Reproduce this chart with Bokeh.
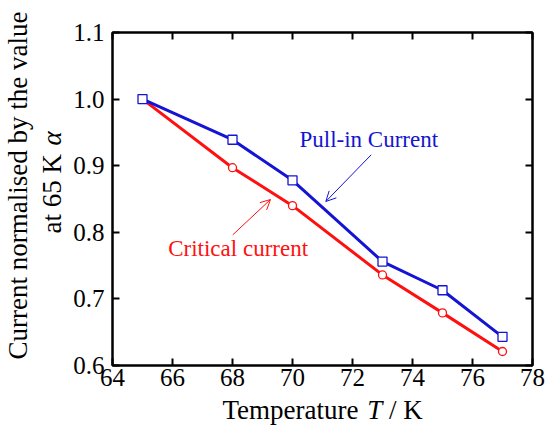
from bokeh.plotting import figure
from bokeh.models import (Range1d, LinearAxis, FixedTicker, Label, Arrow, OpenHead, Title)
from bokeh.embed import file_html
from bokeh.resources import INLINE

# ---- data ----
temperature = [65, 68, 70, 73, 75, 77]
pull_in_current = [1.000, 0.939, 0.878, 0.756, 0.713, 0.643]
critical_current = [1.000, 0.897, 0.840, 0.736, 0.679, 0.621]
x_ticks = [64, 66, 68, 70, 72, 74, 76, 78]
y_ticks = [0.6, 0.7, 0.8, 0.9, 1.0, 1.1]
y_tick_labels = ["0.6", "0.7", "0.8", "0.9", "1.0", "1.1"]

FONT = "Liberation Serif"
BLUE = "#1414d2"
RED = "#ff1010"

W, H = 547, 428
FL, FR, FT, FB = 112, 15, 32, 63
X0, X1, Y0, Y1 = 64, 78, 0.6, 1.1
SX = (W - FL - FR) / (X1 - X0)
SY = (H - FT - FB) / (Y1 - Y0)


def dx(px):
    return X0 + (px - FL) / SX


def dy(py):
    return Y1 - (py - FT) / SY


p = figure(width=W, height=H, output_backend="svg", toolbar_location=None,
           x_range=Range1d(X0, X1), y_range=Range1d(Y0, Y1),
           min_border_left=FL, min_border_right=FR,
           min_border_top=FT, min_border_bottom=FB,
           background_fill_color="white", border_fill_color="white")
p.grid.visible = False
p.outline_line_color = "black"
p.outline_line_width = 2

for ax in (p.xaxis[0], p.yaxis[0]):
    ax.major_label_text_font = FONT
    ax.major_label_text_font_size = "25px"
    ax.major_label_text_color = "black"
    ax.axis_line_width = 2
    ax.major_tick_in = 7
    ax.major_tick_out = 0
    ax.major_tick_line_width = 2
    ax.minor_tick_line_color = None
p.xaxis[0].ticker = FixedTicker(ticks=x_ticks)
p.yaxis[0].ticker = FixedTicker(ticks=y_ticks)
p.yaxis[0].major_label_overrides = {t: s for t, s in zip(y_ticks, y_tick_labels)}
p.xaxis[0].major_label_standoff = 3
p.yaxis[0].major_label_standoff = 8

top = LinearAxis(ticker=FixedTicker(ticks=x_ticks), major_label_text_font_size="1px",
                 major_label_text_color=None,
                 major_tick_in=7, major_tick_out=0, major_tick_line_width=2,
                 axis_line_width=2, minor_tick_line_color=None, major_label_standoff=0)
right = LinearAxis(ticker=FixedTicker(ticks=y_ticks), major_label_text_font_size="1px",
                   major_label_text_color=None,
                   major_tick_in=7, major_tick_out=0, major_tick_line_width=2,
                   axis_line_width=2, minor_tick_line_color=None, major_label_standoff=0)
p.add_layout(top, "above")
p.add_layout(right, "right")

# ---- series ----
p.line(temperature, critical_current, line_color=RED, line_width=3)
p.line(temperature, pull_in_current, line_color=BLUE, line_width=3)
p.scatter(temperature, critical_current, marker="circle", size=8,
          line_color=RED, fill_color="white", line_width=1.3)
p.scatter(temperature, pull_in_current, marker="square", size=9,
          line_color=BLUE, fill_color="white", line_width=1.3)

# ---- annotations ----
p.add_layout(Label(x=dx(299), y=dy(139), text="Pull-in Current", text_font=FONT,
                   text_font_size="23px", text_color=BLUE,
                   text_align="left", text_baseline="alphabetic"))
p.add_layout(Label(x=dx(167.7), y=dy(248), text="Critical current", text_font=FONT,
                   text_font_size="23px", text_color=RED,
                   text_align="left", text_baseline="alphabetic"))
p.add_layout(Arrow(x_start=dx(370.7), y_start=dy(154.3), x_end=dx(325.3), y_end=dy(201),
                   line_color=BLUE, line_width=1,
                   end=OpenHead(size=10, line_color=BLUE, line_width=1)))
p.add_layout(Arrow(x_start=dx(232.3), y_start=dy(234.3), x_end=dx(270), y_end=dy(199),
                   line_color=RED, line_width=1,
                   end=OpenHead(size=10, line_color=RED, line_width=1)))

# ---- axis labels (mixed italic) as side-panel titles ----
LS = "27px"
ZERO = -32  # standoff that makes a 27px title panel (nearly) zero-thick


def spacer(k, tick):
    # an axis with one invisible (white) tick: only reserves about k pixels of room
    return LinearAxis(ticker=FixedTicker(ticks=[tick]), major_tick_out=k, major_tick_in=0,
                      axis_line_color=None, major_tick_line_color="white",
                      minor_tick_line_color=None, major_label_standoff=0,
                      major_label_text_font_size="1px", major_label_text_color=None)


def ttl(text, offset, italic=False):
    return Title(text=text, align="left", offset=offset, vertical_align="middle",
                 standoff=ZERO, text_font=FONT, text_font_size=LS,
                 text_font_style="italic" if italic else "normal", text_color="black")


# x label: "Temperature T / K"
p.add_layout(spacer(21, X1), "below")
p.add_layout(ttl("Temperature", 222 - FL), "below")
p.add_layout(ttl("T", 366.7 - FL, italic=True), "below")
p.add_layout(ttl("/ K", 388.5 - FL), "below")

# y label, two lines
p.add_layout(spacer(19, Y0), "left")
p.add_layout(ttl("at 65 K", (H - FB) - 233), "left")
p.add_layout(ttl("\u03b1", (H - FB) - 145, italic=True), "left")
p.add_layout(spacer(34, Y0), "left")
p.add_layout(ttl("Current normalised by the value", (H - FB) - 359), "left")

open("out.html", "w").write(file_html(p, INLINE))
